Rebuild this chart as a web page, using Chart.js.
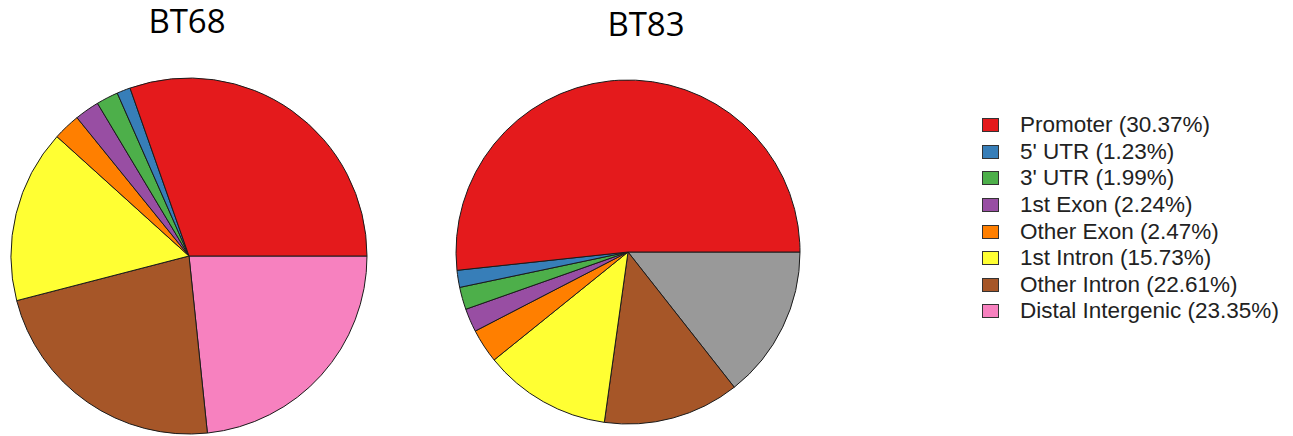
<!DOCTYPE html>
<html>
<head>
<meta charset="utf-8">
<script src="https://cdn.jsdelivr.net/npm/chart.js@4"></script>
<style>
  body { margin: 0; background: #fff; width: 1293px; height: 436px; position: relative; overflow: hidden; }
  .title { position: absolute; font-family: "Open Sans", sans-serif; font-size: 33px; line-height: 33px; color: #000; width: 200px; text-align: center; }
  .box { position: absolute; }
  #legend { position: absolute; left: 982px; top: 112px; font-family: "Liberation Sans", Arial, sans-serif; font-size: 22.5px; color: #222; }
  #legend .row { height: 26.6px; display: flex; align-items: center; }
  #legend .sw { width: 15px; height: 12px; border: 1px solid #333; margin-right: 21px; }
</style>
</head>
<body>
<div class="title" style="left:87px; top:4px;">BT68</div>
<div class="title" style="left:546px; top:7px;">BT83</div>
<div class="box" style="left:0px; top:67px; width:378px; height:378px;"><canvas id="bt68"></canvas></div>
<div class="box" style="left:448px; top:72px; width:360px; height:360px;"><canvas id="bt83"></canvas></div>
<div id="legend"></div>
<script>
// feature categories (legend order, R draws them counter-clockwise from 3 o'clock)
const categories = ['Promoter', "5' UTR", "3' UTR", '1st Exon', 'Other Exon', '1st Intron', 'Other Intron', 'Distal Intergenic'];
const colors = ['#E41A1C', '#377EB8', '#4DAF4A', '#984EA3', '#FF7F00', '#FFFF33', '#A65628', '#F781BF'];

// BT68 percentages (from legend)
const bt68 = [30.37, 1.23, 1.99, 2.24, 2.47, 15.73, 22.61, 23.35];

// BT83 percentages, last one is the grey slice
const bt83Categories = ['Promoter', "5' UTR", "3' UTR", '1st Exon', 'Other Exon', '1st Intron', 'Other Intron', 'Downstream (<=300)'];
const bt83Colors = ['#E41A1C', '#377EB8', '#4DAF4A', '#984EA3', '#FF7F00', '#FFFF33', '#A65628', '#999999'];
const bt83 = [51.7, 1.6, 2.1, 2.2, 3.2, 12.0, 12.8, 14.4];

// Chart.js goes clockwise, so feed the slices reversed and start at 3 o'clock
function makePie(id, labels, values, cols, radius) {
  const ctx = document.getElementById(id).getContext('2d');
  return new Chart(ctx, {
    type: 'pie',
    data: {
      labels: labels.slice().reverse(),
      datasets: [{
        data: values.slice().reverse(),
        backgroundColor: cols.slice().reverse(),
        borderColor: '#1a1a1a',
        borderWidth: 1,
        hoverOffset: 0,
      }],
    },
    options: {
      responsive: true,
      maintainAspectRatio: false,
      animation: false,
      rotation: 90,
      radius: radius,
      layout: { padding: 0 },
      plugins: {
        legend: { display: false },
        tooltip: { enabled: false },
      },
    },
  });
}

makePie('bt68', categories, bt68, colors, 178);
makePie('bt83', bt83Categories, bt83, bt83Colors, 172);

// legend for the BT68 shares
const legend = document.getElementById('legend');
categories.forEach((name, i) => {
  const row = document.createElement('div');
  row.className = 'row';
  const sw = document.createElement('div');
  sw.className = 'sw';
  sw.style.background = colors[i];
  const label = document.createElement('span');
  label.textContent = name + ' (' + bt68[i].toFixed(2) + '%)';
  row.appendChild(sw);
  row.appendChild(label);
  legend.appendChild(row);
});
</script>
</body>
</html>
